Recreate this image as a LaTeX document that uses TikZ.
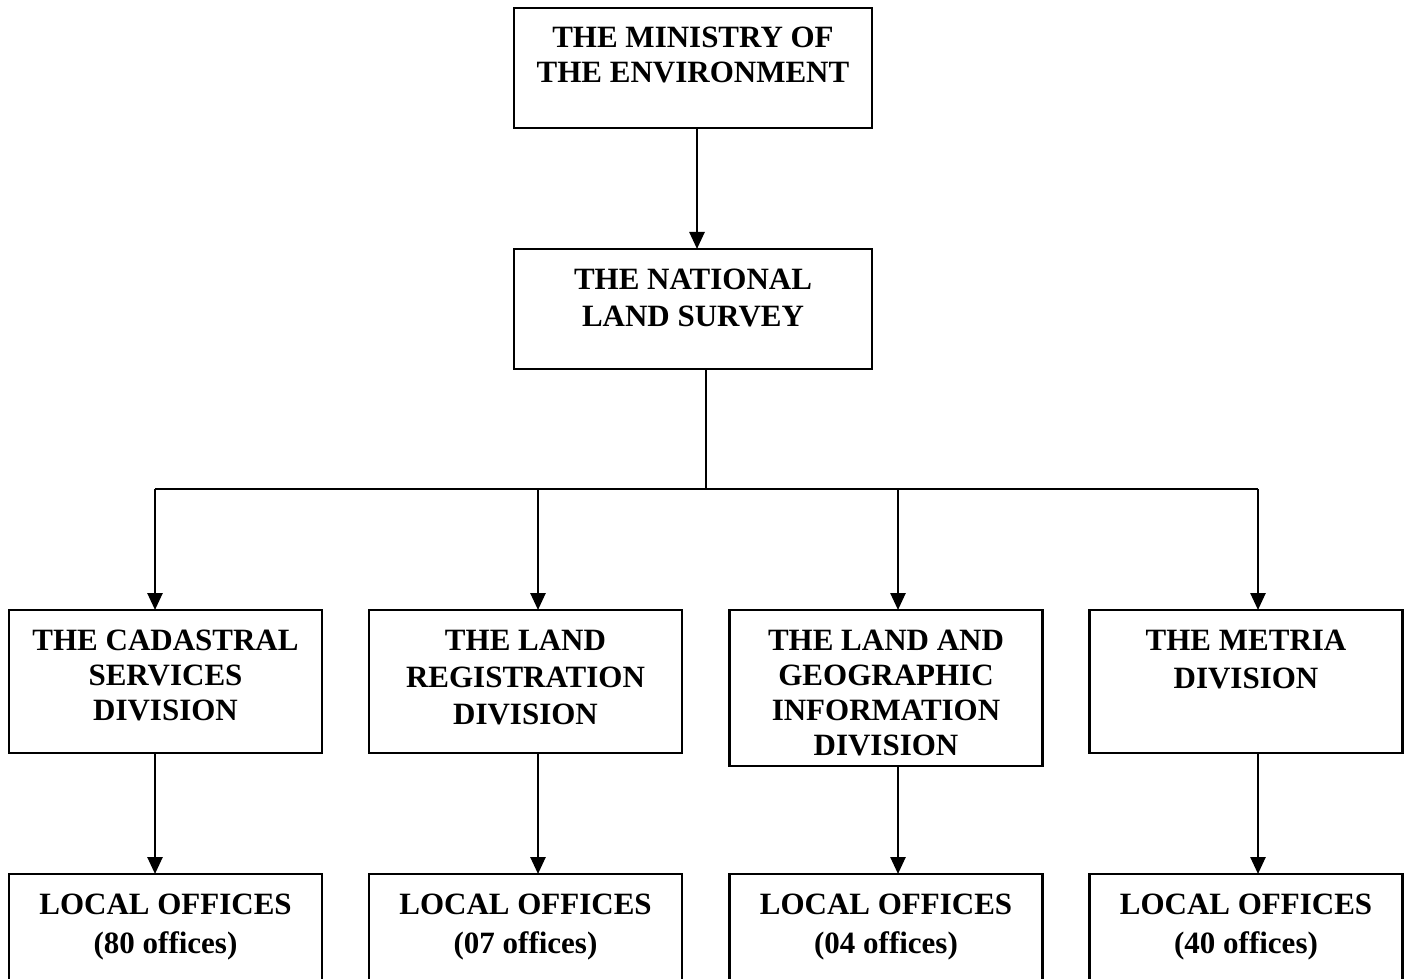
\documentclass[tikz,border=0pt]{standalone}
\usepackage{fontspec}
\setmainfont{Liberation Serif}
\usetikzlibrary{arrows.meta, positioning}

\begin{document}
\begin{tikzpicture}[
        x=0.5pt, y=-0.5pt,
        every node/.style={font=\fontsize{15.5}{17.5}\selectfont\bfseries},
        spread/.style={font=\fontsize{15.5}{#1}\selectfont\bfseries},
        unit/.style={
          rectangle,
          draw,
          line width=1.3pt,
          anchor=north,
          align=center,
          outer sep=0pt,
          inner xsep=4pt,
          inner ysep=2pt
        },
        topunit/.style={unit, minimum width=179pt, text height=35.5pt, text depth=20.5pt},
        division/.style={unit, minimum width=156.5pt, text height=53pt, text depth=14.5pt},
        office/.style={unit, spread=19.5pt, minimum width=156.5pt, text height=37.5pt, text depth=28.5pt},
        arrow/.style={
          -{Triangle[width=7.5pt,length=8.5pt]},
          line width=1.3pt
        },
        link/.style={line width=1.3pt}
      ]

      \useasboundingbox (0,0) rectangle (1410,979);
      \clip (0,0) rectangle (1410,979);

      % Top levels
      \node[topunit] (ministry) at (693,8) {THE MINISTRY OF\\THE ENVIRONMENT};
      \node[topunit, spread=19pt, text height=37pt, text depth=19pt] (nls) at (693,249) {THE NATIONAL\\LAND SURVEY};

      % Divisions
      \node[division] (cadastral) at (165.5,610) {THE CADASTRAL\\SERVICES\\DIVISION};
      \node[division, spread=18.5pt, text height=55pt, text depth=12.5pt] (registration) at (525.5,610) {THE LAND\\REGISTRATION\\DIVISION};
      \node[division, text height=70.5pt, text depth=3.5pt] (geographic) at (886,610) {THE LAND AND\\GEOGRAPHIC\\INFORMATION\\DIVISION};
      \node[division, spread=19pt, text height=37pt, text depth=30.5pt] (metria) at (1246,610) {THE METRIA\\DIVISION};

      % Local offices
      \node[office] (cadoffices) at (165.5,874) {LOCAL OFFICES\\(80 offices)};
      \node[office] (regoffices) at (525.5,874) {LOCAL OFFICES\\(07 offices)};
      \node[office] (geooffices) at (886,874) {LOCAL OFFICES\\(04 offices)};
      \node[office] (metoffices) at (1246,874) {LOCAL OFFICES\\(40 offices)};

      % Branch points
      \coordinate (drop) at (697,128);
      \coordinate (hub) at (706,489);
      \coordinate (bcad) at (155,489);
      \coordinate (breg) at (538,489);
      \coordinate (bgeo) at (898,489);
      \coordinate (bmet) at (1258,489);

      \draw[arrow] (ministry.south -| drop) -- (nls.north -| drop);
      \draw[link] (nls.south -| hub) -- (hub);
      \draw[link] (bcad) -- (bmet);

      \draw[arrow] (bcad) -- (bcad |- cadastral.north);
      \draw[arrow] (breg) -- (breg |- registration.north);
      \draw[arrow] (bgeo) -- (bgeo |- geographic.north);
      \draw[arrow] (bmet) -- (bmet |- metria.north);

      \draw[arrow] (cadastral.south -| bcad) -- (bcad |- cadoffices.north);
      \draw[arrow] (registration.south -| breg) -- (breg |- regoffices.north);
      \draw[arrow] (geographic.south -| bgeo) -- (bgeo |- geooffices.north);
      \draw[arrow] (metria.south -| bmet) -- (bmet |- metoffices.north);

    \end{tikzpicture}
\end{document}
